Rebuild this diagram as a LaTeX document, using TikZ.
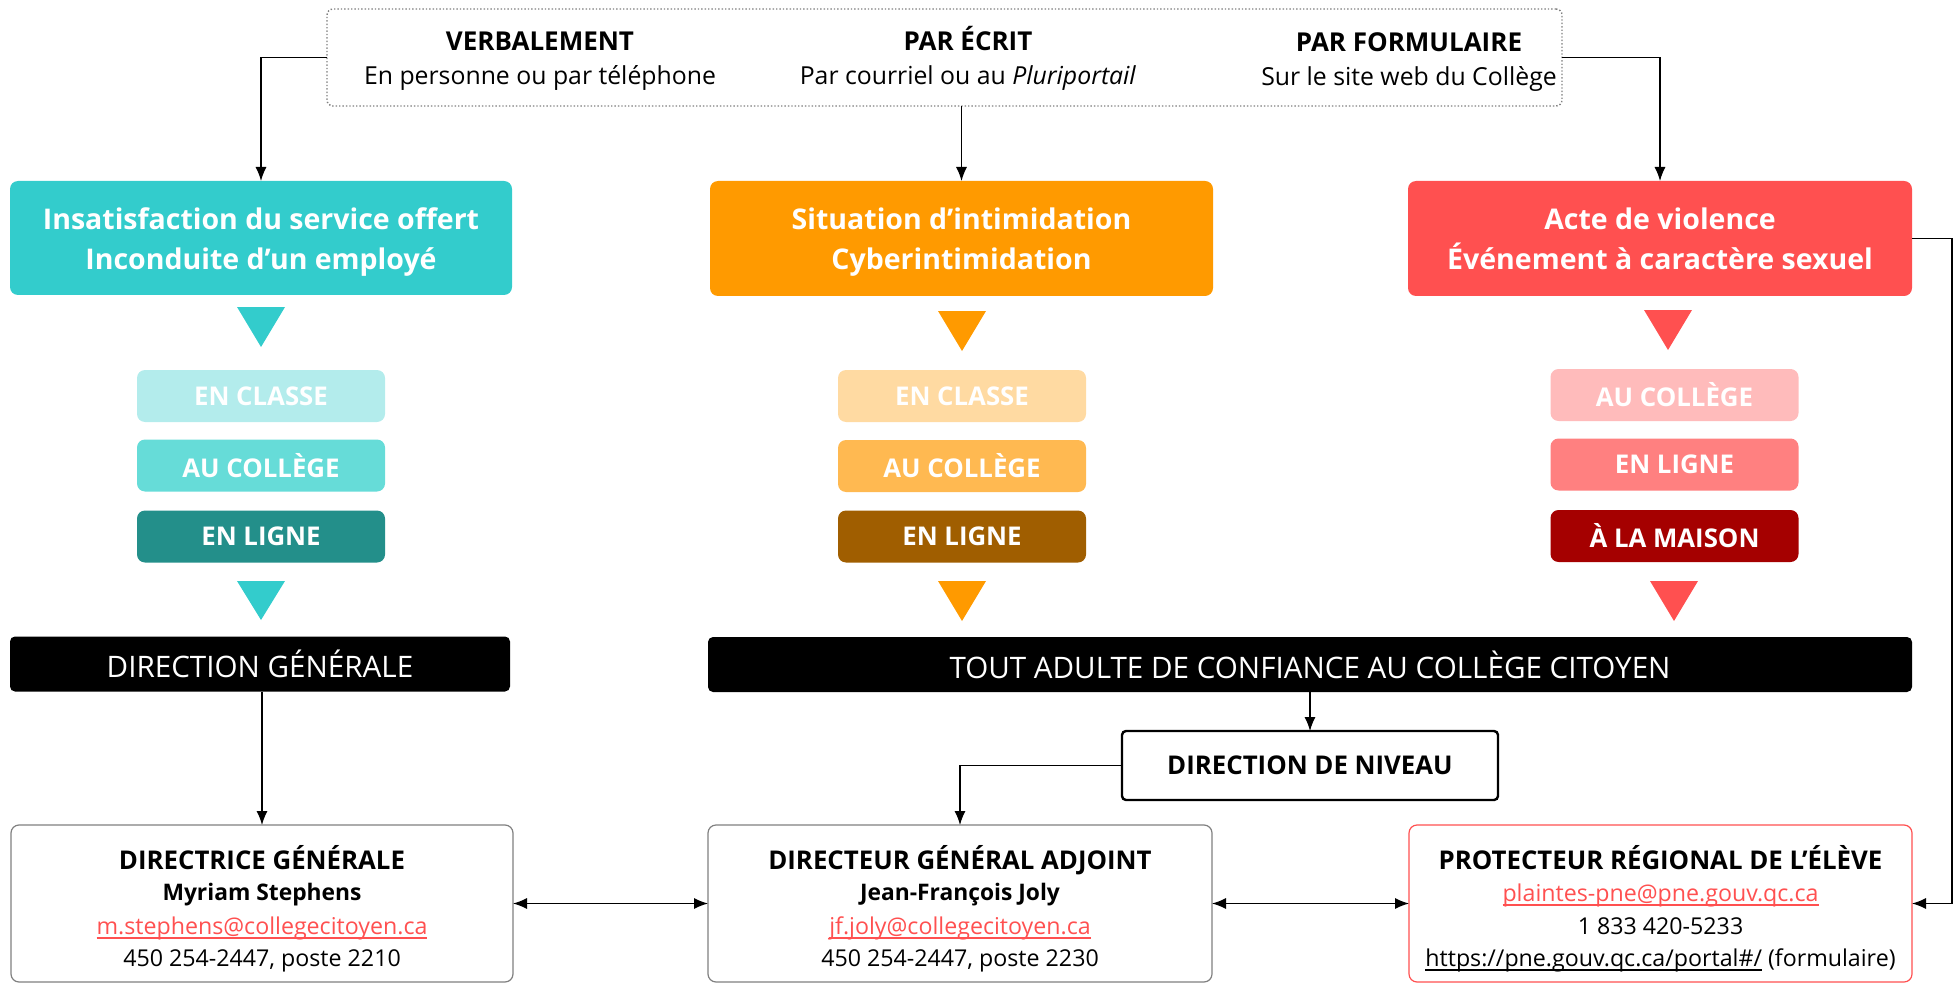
\documentclass[tikz,border=0pt]{standalone}
\usepackage{fontspec}
\setmainfont{Open Sans}
\usetikzlibrary{arrows.meta}
\definecolor{tealM}{HTML}{33CCCC}
\definecolor{tealL}{HTML}{B3ECEC}
\definecolor{tealMid}{HTML}{66DCD8}
\definecolor{tealD}{HTML}{238F8A}
\definecolor{orM}{HTML}{FF9A00}
\definecolor{orL}{HTML}{FFDAA2}
\definecolor{orMid}{HTML}{FFB951}
\definecolor{orD}{HTML}{A05E00}
\definecolor{rdM}{HTML}{FF5050}
\definecolor{rdL}{HTML}{FFBBBB}
\definecolor{rdMid}{HTML}{FF8080}
\definecolor{rdD}{HTML}{A50000}
\definecolor{grayB}{HTML}{808080}
\newcommand\myul[2]{\setbox0\hbox{#2}\rlap{\color{#1}\rule[-4.5pt]{\wd0}{1.4pt}}\box0\relax}
\newcommand\fs[2]{\fontsize{#1}{#2}\selectfont}
\begin{document}
\begin{tikzpicture}[x=1pt,y=-1pt,
  base/.style={rectangle,inner sep=0pt,outer sep=0pt},
  bigbox/.style={base,rounded corners=8pt},
  bigtxt/.style={text=white,font=\fs{28.5}{40}\bfseries,anchor=base},
  smallbox/.style={base,rounded corners=8pt,text=white,font=\fs{25.8}{30}\bfseries,minimum width=248pt,minimum height=52pt},
  blackbox/.style={base,rounded corners=5pt,fill=black,text=white,font=\fs{29.6}{32},minimum height=55pt},
  infobox/.style={base,rounded corners=8pt,draw=grayB,line width=1.2pt,minimum width=502pt,minimum height=157pt},
  conn/.style={draw=black,line width=1.2pt},
  arr/.style={conn,-{Latex[length=14pt,width=11pt]}},
  darr/.style={conn,{Latex[length=14pt,width=11pt]}-{Latex[length=14pt,width=11pt]}},
  headtxt/.style={font=\fs{26}{30}\bfseries,anchor=base},
  subtxt/.style={font=\fs{24.8}{30},anchor=base},
  ttl/.style={font=\fs{25.8}{30}\bfseries,anchor=base},
  nm/.style={font=\fs{22.8}{26}\bfseries,anchor=base},
  rg/.style={font=\fs{23.2}{28},anchor=base},
]
\useasboundingbox (0,0) rectangle (1959,984);

% top dotted box
\node[base,draw=grayB,dotted,line width=1.4pt,rounded corners=6pt,minimum width=1235pt,minimum height=97pt] (top) at (944.5,57.5) {};
\node[headtxt] (t1) at (540,51) {VERBALEMENT};
\node[subtxt] (s1) at (540,85) {En personne ou par téléphone};
\node[headtxt] (t2) at (968,51) {PAR ÉCRIT};
\node[subtxt] (s2) at (968,85) {Par courriel ou au \textit{Pluriportail}};
\node[headtxt] (t3) at (1409,52) {PAR FORMULAIRE};
\node[subtxt] (s3) at (1409,86) {Sur le site web du Collège};

% big coloured boxes
\node[bigbox,fill=tealM,minimum width=502pt,minimum height=114pt] (teal) at (261,238) {};
\node[bigbox,fill=orM,minimum width=503pt,minimum height=115pt] (orange) at (961.5,238.5) {};
\node[bigbox,fill=rdM,minimum width=504pt,minimum height=115pt] (red) at (1660,238.5) {};
\node[bigtxt] (teal1) at (261,230) {Insatisfaction du service offert};
\node[bigtxt] (teal2) at (261,270) {Inconduite d’un employé};
\node[bigtxt] (or1) at (961.5,230) {Situation d’intimidation};
\node[bigtxt] (or2) at (961.5,270) {Cyberintimidation};
\node[bigtxt] (rd1) at (1660,230) {Acte de violence};
\node[bigtxt] (rd2) at (1660,270) {Événement à caractère sexuel};

% triangles
\fill[tealM] (237,307) -- (285,307) -- (261,347) -- cycle;
\fill[orM] (938,311) -- (986,311) -- (962,351) -- cycle;
\fill[rdM] (1644,310) -- (1692,310) -- (1668,350) -- cycle;
\fill[tealM] (237,581) -- (285,581) -- (261,620) -- cycle;
\fill[orM] (938,581) -- (986,581) -- (962,621) -- cycle;
\fill[rdM] (1650,581) -- (1698,581) -- (1674,621) -- cycle;

% small boxes
\node[smallbox,fill=tealL] (tc1) at (261,396) {EN CLASSE};
\node[smallbox,fill=tealMid] (tc2) at (261,465.5) {AU COLLÈGE};
\node[smallbox,fill=tealD] (tc3) at (261,536.5) {EN LIGNE};
\node[smallbox,fill=orL] (oc1) at (962,396) {EN CLASSE};
\node[smallbox,fill=orMid] (oc2) at (962,466) {AU COLLÈGE};
\node[smallbox,fill=orD] (oc3) at (962,536.5) {EN LIGNE};
\node[smallbox,fill=rdL] (rc1) at (1674.5,395) {AU COLLÈGE};
\node[smallbox,fill=rdMid] (rc2) at (1674.5,464.5) {EN LIGNE};
\node[smallbox,fill=rdD] (rc3) at (1674.5,536) {À LA MAISON};

% black boxes
\node[blackbox,minimum width=500pt] (dgb) at (260,664) {DIRECTION GÉNÉRALE};
\node[blackbox,minimum width=1204pt] (tout) at (1310,664.5) {TOUT ADULTE DE CONFIANCE AU COLLÈGE CITOYEN};
\node[base,draw=black,line width=2.4pt,rounded corners=4pt,minimum width=376pt,minimum height=69pt,font=\fs{25.8}{30}\bfseries] (ddn) at (1310,765.5) {DIRECTION DE NIVEAU};

% info boxes
\node[infobox] (dg) at (262,903.5) {};
\node[infobox,minimum width=504pt] (dga) at (960,903.5) {};
\node[infobox,draw=rdM,minimum width=503pt] (pre) at (1660.5,903.5) {};

\node[ttl] (dg1) at (262,869) {DIRECTRICE GÉNÉRALE};
\node[nm] (dg2) at (262,900.5) {Myriam Stephens};
\node[rg,text=rdM] (dg3) at (262,934) {\myul{rdM}{m.stephens@collegecitoyen.ca}};
\node[rg] (dg4) at (262,966) {450 254-2447, poste 2210};

\node[ttl] (dga1) at (960,869) {DIRECTEUR GÉNÉRAL ADJOINT};
\node[nm] (dga2) at (960,900.5) {Jean-François Joly};
\node[rg,text=rdM] (dga3) at (960,934) {\myul{rdM}{jf.joly@collegecitoyen.ca}};
\node[rg] (dga4) at (960,966) {450 254-2447, poste 2230};

\node[ttl] (pre1) at (1660.5,869) {PROTECTEUR RÉGIONAL DE L’ÉLÈVE};
\node[rg,text=rdM] (pre2) at (1660.5,901) {\myul{rdM}{plaintes-pne@pne.gouv.qc.ca}};
\node[rg] (pre3) at (1660.5,934) {1 833 420-5233};
\node[rg] (pre4) at (1660.5,966) {\myul{black}{https://pne.gouv.qc.ca/portal\#/} (formulaire)};

% connectors
\draw[arr] (top.west) -| (teal.north);
\draw[arr] (top.south -| orange.north) -- (orange.north);
\draw[arr] (top.east) -| (red.north);
\draw[arr] (dgb.south -| dg.north) -- (dg.north);
\draw[arr] (tout.south -| ddn.north) -- (ddn.north);
\draw[arr] (ddn.west) -| (dga.north);
\draw[darr] (dg.east) -- (dga.west);
\draw[darr] (dga.east) -- (pre.west);
\coordinate (rc) at (1952,238.5);
\draw[arr] (red.east) -- (rc) |- (pre.east);
\end{tikzpicture}
\end{document}
